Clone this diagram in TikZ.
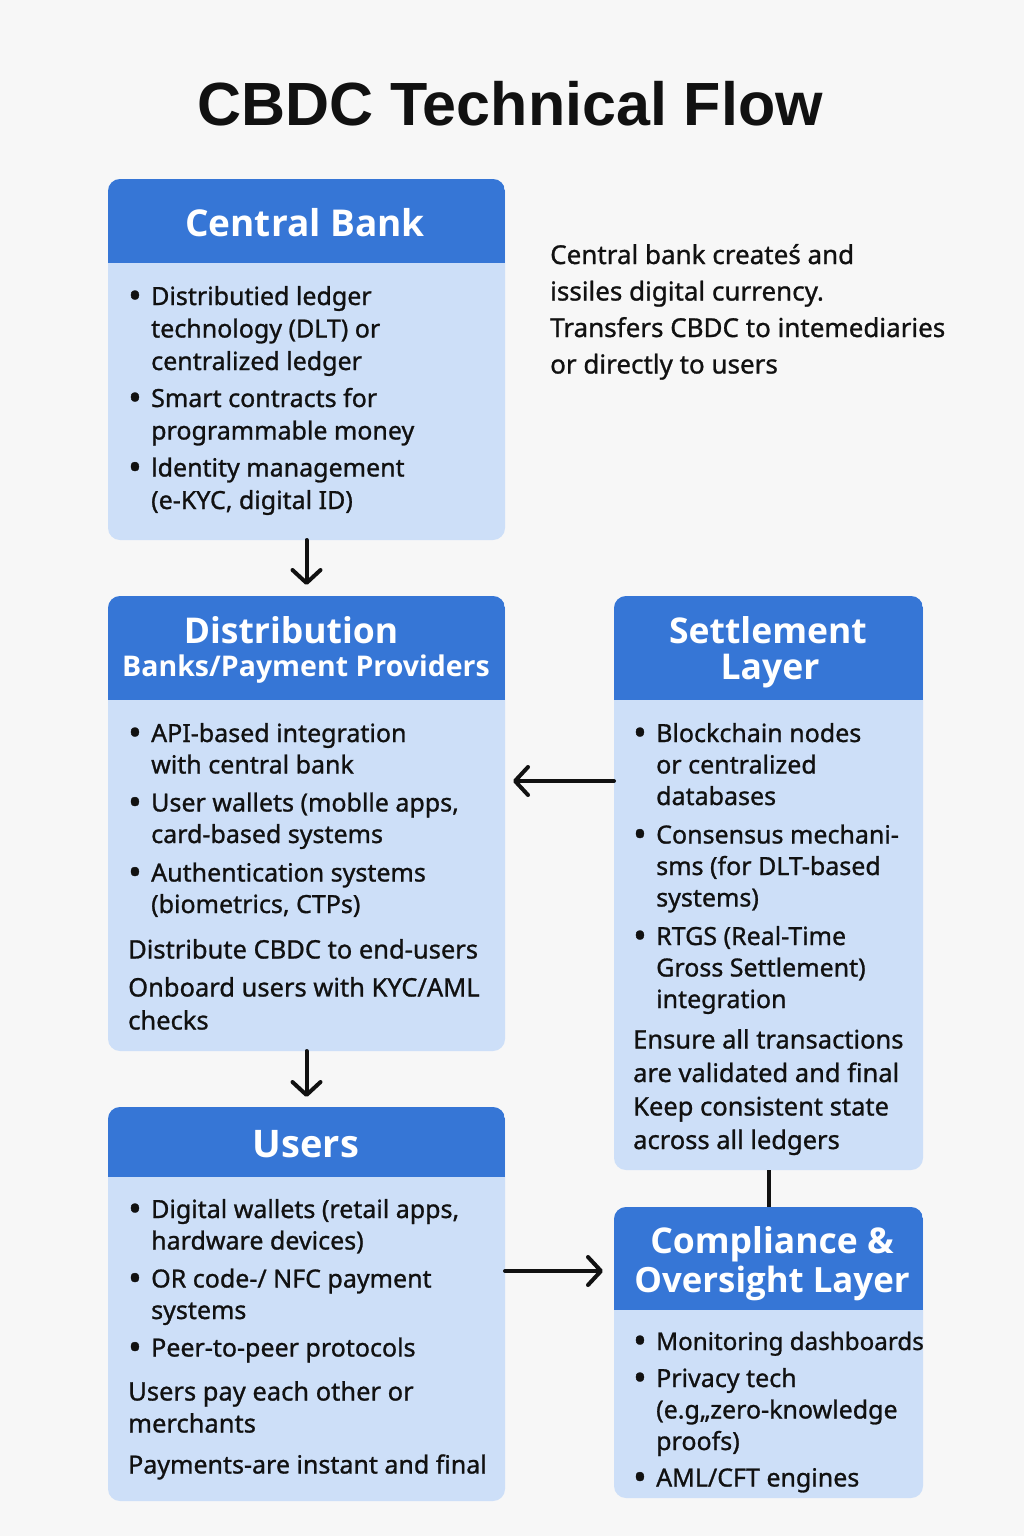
\documentclass[tikz,border=0pt]{standalone}
\usepackage{fontspec}
\setmainfont{Noto Sans}[FakeBold=1]
\newfontfamily\headfont{Open Sans}
\newfontfamily\titlefont{Liberation Sans}
\usetikzlibrary{arrows.meta,fit}
\definecolor{bg}{HTML}{F7F7F7}
\definecolor{hblue}{HTML}{3676D6}
\definecolor{lblue}{HTML}{CDDFF8}
\definecolor{ink}{HTML}{111111}
\newcommand\blt{\raisebox{-3.2pt}{\fontsize{36}{36}\selectfont•}}
\newcommand\plainline[1]{\multicolumn{2}{@{}l@{}}{\fontsize{25.5}{31.5}\selectfont #1}}
\begin{document}
\begin{tikzpicture}[x=1pt,y=-1pt,
  boxbody/.style={fill=lblue, rounded corners=12pt, inner sep=0pt, outer sep=0pt},
  htext/.style={text=white, font=\headfont\bfseries\fontsize{35.5}{40}\selectfont, inner sep=0pt, anchor=base},
  btext/.style={text=ink, anchor=base west, inner sep=0pt, font=\fontsize{25}{31.5}\selectfont},
  arr/.style={draw=ink, line width=4pt, line cap=round, -{Straight Barb[length=13pt,width=28pt,line cap=round,line join=round]}},
  link/.style={draw=ink, line width=4pt},
]
\fill[bg] (0,0) rectangle (1024,1536);
\useasboundingbox (0,0) rectangle (1024,1536);

% title
\node[font=\titlefont\bfseries\fontsize{61}{70}\selectfont, text=ink, inner sep=0pt, anchor=base] (title) at (510,126) {CBDC Technical Flow};

% boxes
\node[boxbody, fit={(108,179) (505,540)}] (cb) {};
\node[boxbody, fit={(108,596) (505,1051)}] (dist) {};
\node[boxbody, fit={(614,596) (923,1170)}] (sett) {};
\node[boxbody, fit={(108,1107) (505,1501)}] (users) {};
\node[boxbody, fit={(614,1207) (923,1498)}] (comp) {};

% headers
\begin{scope}
\clip[rounded corners=12pt] (cb.north west) rectangle (cb.south east);
\fill[hblue] (cb.north west) rectangle (505,263);
\end{scope}
\begin{scope}
\clip[rounded corners=12pt] (dist.north west) rectangle (dist.south east);
\fill[hblue] (dist.north west) rectangle (505,700);
\end{scope}
\begin{scope}
\clip[rounded corners=12pt] (sett.north west) rectangle (sett.south east);
\fill[hblue] (sett.north west) rectangle (923,700);
\end{scope}
\begin{scope}
\clip[rounded corners=12pt] (users.north west) rectangle (users.south east);
\fill[hblue] (users.north west) rectangle (505,1177);
\end{scope}
\begin{scope}
\clip[rounded corners=12pt] (comp.north west) rectangle (comp.south east);
\fill[hblue] (comp.north west) rectangle (923,1310);
\end{scope}

% header texts
\node[htext, font=\headfont\bfseries\fontsize{37}{40}\selectfont] (cbh) at (305,236) {Central Bank};
\node[htext] (disth1) at (291,643) {Distribution};
\node[htext, font=\headfont\bfseries\fontsize{28.5}{32}\selectfont] (disth2) at (306,676) {Banks/Payment Providers};
\node[htext] (setth1) at (768,643) {Settlement};
\node[htext] (setth2) at (770,679) {Layer};
\node[htext, font=\headfont\bfseries\fontsize{38}{40}\selectfont] (usersh) at (306,1157) {Users};
\node[htext] (comph1) at (772,1253) {Compliance \&};
\node[htext, font=\headfont\bfseries\fontsize{34.8}{40}\selectfont] (comph2) at (772,1292) {Oversight Layer};

% body texts
\node[btext, font=\fontsize{25}{32.5}\selectfont] (cbt) at (128,305) {\begin{tabular}[t]{@{}p{23pt}@{}l@{}}
\blt & Distributied ledger\\
 & technology (DLT) or\\
 & centralized ledger\\[4.5pt]
\blt & Smart contracts for\\
 & programmable money\\[4.5pt]
\blt & ldentity management\\
 & (e-KYC, digital ID)
\end{tabular}};

\node[btext] (distt) at (128,742) {\begin{tabular}[t]{@{}p{23pt}@{}l@{}}
\blt & API-based integration\\
 & with central bank\\[6.5pt]
\blt & User wallets (moblle apps,\\
 & card-based systems\\[7pt]
\blt & Authentication systems\\
 & (biometrics, CTPs)\\[14pt]
\plainline{Distribute CBDC to end-users}\\[6.5pt]
\plainline{Onboard users with KYC/AML}\\[1.5pt]
\plainline{checks}
\end{tabular}};

\node[btext] (settt) at (633,742) {\begin{tabular}[t]{@{}p{23pt}@{}l@{}}
\blt & Blockchain nodes\\
 & or centralized\\
 & databases\\[7pt]
\blt & Consensus mechani-\\
 & sms (for DLT-based\\
 & systems)\\[7pt]
\blt & RTGS (Real-Time\\
 & Gross Settlement)\\
 & integration\\[9pt]
\plainline{Ensure all transactions}\\[2pt]
\plainline{are validated and final}\\[2pt]
\plainline{Keep consistent state}\\[2pt]
\plainline{across all ledgers}
\end{tabular}};

\node[btext] (userst) at (128,1218) {\begin{tabular}[t]{@{}p{23pt}@{}l@{}}
\blt & Digital wallets (retail apps,\\
 & hardware devices)\\[6.5pt]
\blt & OR code-/ NFC payment\\
 & systems\\[6pt]
\blt & Peer-to-peer protocols\\[12.5pt]
\plainline{Users pay each other or}\\[0.5pt]
\plainline{merchants}\\[9.5pt]
\multicolumn{2}{@{}l@{}}{\fontsize{25}{31.5}\selectfont Payments-are instant and final}
\end{tabular}};

\node[btext] (compt) at (633,1350) {\begin{tabular}[t]{@{}p{23pt}@{}l@{}}
\blt & {\fontsize{24.2}{31.5}\selectfont Monitoring dashboards}\\[5.5pt]
\blt & Privacy tech\\
 & (e.g,,zero-knowledge\\
 & proofs)\\[5pt]
\blt & AML/CFT engines
\end{tabular}};

% side note
\node[btext, font=\fontsize{26}{36.5}\selectfont] (note) at (550,264) {\begin{tabular}[t]{@{}l@{}}Central bank createś and\\issiles digital currency.\\Transfers CBDC to intemediaries\\or directly to users\end{tabular}};

% connectors
\coordinate (ya) at (0,781);
\coordinate (yb) at (0,1271);
\draw[arr, shorten >=11pt] (cb.south) -- (dist.north);
\draw[arr, shorten >=8pt] (ya -| sett.west) -- (ya -| dist.east);
\draw[arr, shorten >=10pt] (dist.south) -- (users.north);
\draw[arr, shorten >=11pt] (yb -| users.east) -- (yb -| comp.west);
\draw[link] (sett.south) -- (comp.north);
\end{tikzpicture}
\end{document}
